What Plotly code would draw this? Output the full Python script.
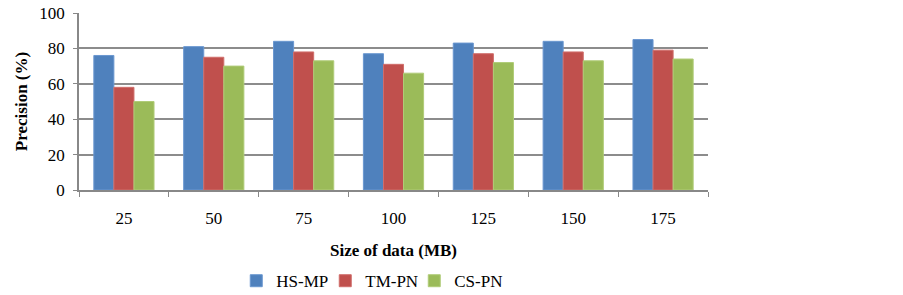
import plotly.graph_objects as go

categories = ["25", "50", "75", "100", "125", "150", "175"]
hs_mp = [76, 81, 84, 77, 83, 84, 85]
tm_pn = [58, 75, 78, 71, 77, 78, 79]
cs_pn = [50, 70, 73, 66, 72, 73, 74]
series_names = ["HS-MP", "TM-PN", "CS-PN"]
y_ticks = [0, 20, 40, 60, 80, 100]

colors = ["#4F81BD", "#C0504D", "#9BBB59"]
edges = ["#6A97D0", "#D06E6B", "#B0CC78"]

fig = go.Figure()
for name, vals, c, e in zip(series_names, [hs_mp, tm_pn, cs_pn], colors, edges):
    fig.add_trace(go.Bar(x=categories, y=vals, name=name,
                         marker=dict(color=c, line=dict(color=e, width=1))))

font_family = "Liberation Serif, Times New Roman, serif"
fig.update_layout(
    width=903, height=295,
    margin=dict(l=79, r=195, t=13, b=105, autoexpand=False),
    plot_bgcolor="white", paper_bgcolor="white",
    barmode="group", bargap=0.33, bargroupgap=0,
    font=dict(family=font_family, size=17, color="black"),
    showlegend=True,
    legend=dict(orientation="h", x=0.25, xanchor="left", y=-0.515, yanchor="middle",
                font=dict(size=17, family=font_family),
                traceorder="normal", tracegroupgap=0, itemwidth=30,
                entrywidth=44, entrywidthmode="pixels",
                borderwidth=0, bgcolor="rgba(0,0,0,0)"),
    xaxis=dict(
        type="category", showline=True, linecolor="#888888", linewidth=1.5,
        ticks="outside", tickson="boundaries", ticklen=5, tickcolor="#888888",
        tickfont=dict(size=17, family=font_family), ticklabelstandoff=12,
        title=dict(text="<b>Size of data (MB)</b>", font=dict(size=17, family=font_family), standoff=17),
        automargin=False,
    ),
    yaxis=dict(
        range=[0, 100], tickvals=y_ticks, showline=True, linecolor="#888888", linewidth=1.5,
        showgrid=True, gridcolor="#8C8C8C", gridwidth=1.5,
        ticks="outside", ticklen=4, tickcolor="#888888",
        tickfont=dict(size=17, family=font_family), ticklabelstandoff=5,
        title=dict(text="<b>Precision (%)</b>", font=dict(size=17, family=font_family), standoff=7),
        zeroline=False, automargin=False,
    ),
)
fig.write_html("out.html", config={"displayModeBar": False},
               post_script="document.body.style.margin='0';")
